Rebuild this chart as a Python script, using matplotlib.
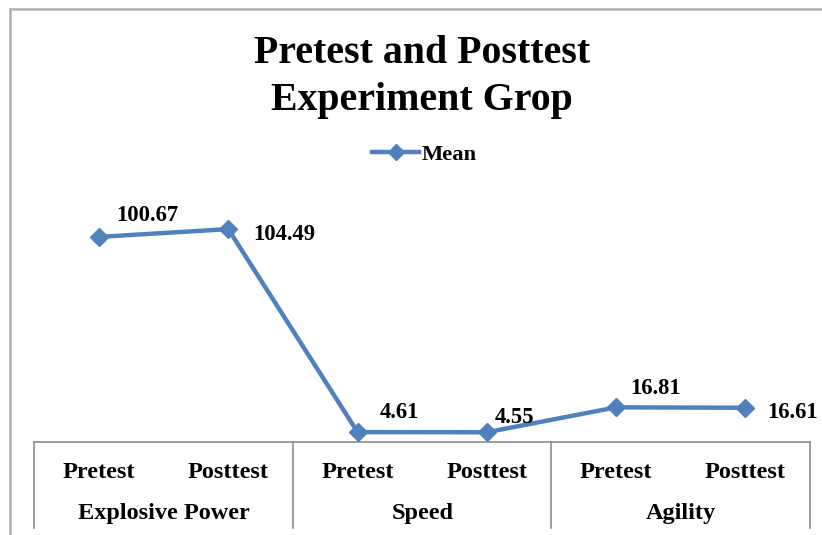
import matplotlib.pyplot as plt
from matplotlib.lines import Line2D

# --------------------------
# Data
# --------------------------
groups = ["Explosive Power", "Speed", "Agility"]
tests = ["Pretest", "Posttest"]
mean_values = [100.67, 104.49, 4.61, 4.55, 16.81, 16.61]

# label offsets in pixels (dx, dy to baseline) relative to each point
label_offsets = [(48, 16), (56, -11), (42, 14), (28, 9), (39, 13), (47, -10)]

plt.rcParams['font.family'] = ['Liberation Serif', 'DejaVu Serif']
plt.rcParams['font.weight'] = 'bold'

W, H = 822, 535
fig = plt.figure(figsize=(W / 100, H / 100), dpi=100)

# axes placed in pixel terms
left, right, top, bottom = 34.4, 810, 197.6, 441.5
ax = fig.add_axes([left / W, 1 - bottom / H, (right - left) / W, (bottom - top) / H])

x = list(range(len(mean_values)))
color = "#4F81BD"
ax.plot(x, mean_values, color=color, lw=3.2, marker="D", markersize=9.5,
        label="Mean", clip_on=False, zorder=3)

ax.set_xlim(-0.5, len(mean_values) - 0.5)
ax.set_ylim(0, 120)
for s in ["top", "right", "left"]:
    ax.spines[s].set_visible(False)
ax.spines["bottom"].set_color("#8c8c8c")
ax.spines["bottom"].set_linewidth(1.2)
ax.set_yticks([])
ax.set_xticks([])

# data labels
for xi, v, (dx, dy) in zip(x, mean_values, label_offsets):
    ax.annotate(f"{v:.2f}", (xi, v), xytext=(dx, dy), textcoords="offset pixels",
                ha="center", va="baseline", fontsize=16.3, fontweight="bold")

# multi-level category axis
trans = ax.get_xaxis_transform()
h = bottom - top
for i in range(len(groups) + 1):
    xb = -0.5 + 2 * i
    ax.add_line(Line2D([xb, xb], [0, -(528 - bottom) / h], transform=trans,
                       color="#8c8c8c", lw=1.2, clip_on=False))
for gi, g in enumerate(groups):
    for ti, t in enumerate(tests):
        ax.text(2 * gi + ti, -(478 - bottom) / h, t, transform=trans,
                ha="center", va="baseline", fontsize=17.5, fontweight="bold")
    ax.text(2 * gi + 0.5, -(519 - bottom) / h, g, transform=trans,
            ha="center", va="baseline", fontsize=17.5, fontweight="bold")

# title
fig.text(422 / W, 1 - 63 / H, "Pretest and Posttest", ha="center", va="baseline",
         fontsize=28.7, fontweight="bold")
fig.text(422 / W, 1 - 110 / H, "Experiment Grop", ha="center", va="baseline",
         fontsize=28.7, fontweight="bold")

# legend
fig.legend(loc="center", bbox_to_anchor=(424.5 / W, 1 - 155 / H), frameon=False,
           prop={"size": 16.2, "weight": "bold"}, handlelength=2.1, handletextpad=0.1,
           markerscale=0.85)

# chart area border
fig.add_artist(Line2D([9.5 / W, 9.5 / W], [0, 1 - 9 / H], color="#b0b0b0", lw=1.8))
fig.add_artist(Line2D([9.5 / W, 1], [1 - 9 / H, 1 - 9 / H], color="#b0b0b0", lw=1.8))

fig.savefig("out.png", dpi=100)
